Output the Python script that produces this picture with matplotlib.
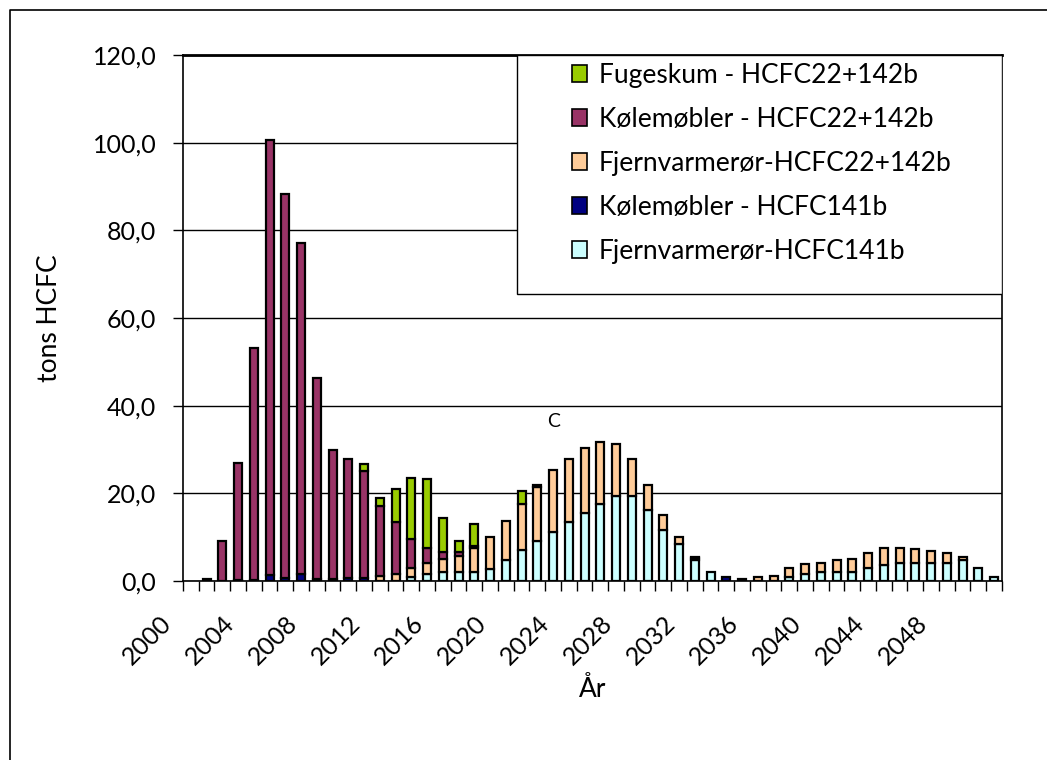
import matplotlib
matplotlib.use("Agg")
import matplotlib.pyplot as plt
import matplotlib.transforms as mtransforms
from matplotlib.lines import Line2D
from matplotlib.patches import Rectangle, Patch
import numpy as np

plt.rcParams['font.family'] = ['Lato', 'DejaVu Sans']

years = list(range(2000, 2052))

# tons HCFC per year, one list per source (stacked bottom to top)
fjernvarme_141b = [0, 0, 0, 0, 0, 0, 0, 0, 0, 0, 0, 0, 0, 0,
                   0.8, 1.7, 2.0, 2.1, 2.0, 2.7, 4.9, 7.0, 9.1, 11.2, 13.4, 15.5,
                   17.6, 19.3, 19.3, 16.3, 11.6, 8.4, 4.9, 2.0, 0, 0, 0, 0,
                   0.8, 1.5, 2.1, 2.1, 2.1, 2.9, 3.7, 4.1, 4.1, 4.1, 4.1, 4.7, 2.9, 0.8]
koele_141b = [0, 0.5, 0.1, 0.2, 0.3, 1.3, 0.7, 1.7, 0.4, 0.4, 0.6, 0.6, 0, 0,
              0, 0, 0, 0, 0, 0, 0, 0, 0, 0, 0, 0,
              0, 0, 0, 0, 0, 0, 0.4, 0, 0.8, 0.4, 0, 0,
              0, 0, 0, 0, 0, 0, 0, 0, 0, 0, 0, 0, 0, 0]
fjernvarme_22 = [0, 0, 0, 0, 0, 0, 0, 0, 0, 0, 0, 0, 1.1, 1.7,
                 2.1, 2.4, 3.0, 3.7, 5.6, 7.3, 8.8, 10.5, 12.3, 14.1, 14.4, 14.8,
                 14.0, 11.9, 8.5, 5.5, 3.5, 1.7, 0.1, 0, 0, 0, 0.8, 1.2,
                 2.1, 2.3, 2.1, 2.6, 2.9, 3.5, 3.9, 3.5, 3.1, 2.7, 2.3, 0.8, 0, 0]
koele_22 = [0, 0, 9.1, 26.7, 52.8, 99.4, 87.7, 75.4, 45.9, 29.5, 27.3, 24.6, 16.1, 11.7,
            6.7, 3.4, 1.7, 0.9, 0.3, 0, 0, 0, 0.4, 0, 0, 0,
            0, 0, 0, 0, 0, 0, 0, 0, 0, 0, 0, 0,
            0, 0, 0, 0, 0, 0, 0, 0, 0, 0, 0, 0, 0, 0]
fugeskum = [0, 0, 0, 0, 0, 0, 0, 0, 0, 0, 0, 1.4, 1.8, 7.7,
            13.9, 15.7, 7.7, 2.4, 5.0, 0, 0, 3.1, 0, 0, 0, 0,
            0, 0, 0, 0, 0, 0, 0, 0, 0, 0, 0, 0,
            0, 0, 0, 0, 0, 0, 0, 0, 0, 0, 0, 0, 0, 0]

series = [
    ("Fjernvarmerør-HCFC141b", fjernvarme_141b, "#CCFFFF"),
    ("Kølemøbler - HCFC141b", koele_141b, "#000080"),
    ("Fjernvarmerør-HCFC22+142b", fjernvarme_22, "#FFCC99"),
    ("Kølemøbler - HCFC22+142b", koele_22, "#993366"),
    ("Fugeskum - HCFC22+142b", fugeskum, "#99CC00"),
]

fig = plt.figure(figsize=(10.47, 7.6), dpi=100)
ax = fig.add_axes([183 / 1047, 1 - 581 / 760, 819 / 1047, 526 / 760])

bottom = np.zeros(len(years))
for name, vals, col in series:
    vals = np.array(vals, dtype=float)
    edges = ['black' if v > 0 else 'none' for v in vals]
    ax.bar(years, vals, width=0.5, bottom=bottom, color=col,
           edgecolor=edges, linewidth=1.6, zorder=3)
    bottom += vals

ax.set_ylim(0, 120)
ax.set_yticks(range(0, 121, 20))
ax.set_yticklabels([f"{v},0" for v in range(0, 121, 20)], fontsize=18)
ax.yaxis.grid(True, color='black', linewidth=1.0, zorder=0)
ax.tick_params(axis='y', length=7.2, width=1, pad=12)

ax.set_xlim(1999.5, 2051.5)
ax.set_xticks(np.arange(1999.5, 2052, 1), minor=True)
ax.set_xticks(years[::4])
ax.set_xticklabels([str(y) for y in years[::4]], fontsize=18, rotation=45,
                   ha='right', rotation_mode='anchor')
ax.tick_params(axis='x', which='minor', length=7, width=1)
ax.tick_params(axis='x', which='major', length=0, pad=14)
# rotated year labels sit a bit left of and below their bar
offset = mtransforms.ScaledTranslation(-22.6 / 72, -8.2 / 72, fig.dpi_scale_trans)
for lab in ax.get_xticklabels():
    lab.set_transform(lab.get_transform() + offset)

for side in ['left', 'bottom', 'right']:
    ax.spines[side].set_linewidth(1.2)
ax.spines['top'].set_linewidth(2)

ax.set_ylabel("tons HCFC", fontsize=19, va='center')
ax.yaxis.set_label_coords(-0.1625, 0.5)
ax.set_xlabel("År", fontsize=19, va='center')
ax.xaxis.set_label_coords(0.5, -0.207)

ax.text(2023, 36.5, "C", fontsize=14, ha='center', va='center')

# legend box
ax.add_patch(Rectangle((0.4078, 0.5456), 0.5922, 0.4544, transform=ax.transAxes,
                       facecolor='white', edgecolor='black', linewidth=1, zorder=4))
handles = [Patch(facecolor=col, edgecolor='black', linewidth=1.2, label=name)
           for name, vals, col in series[::-1]]
leg = ax.legend(handles=handles, loc='center', bbox_to_anchor=(0.707, 0.794),
                frameon=False, fontsize=19, handlelength=0.57, handleheight=0.57,
                handletextpad=0.45, labelspacing=0.72)
leg.set_zorder(5)

# chart area border
fig.add_artist(Line2D([10 / 1047, 10 / 1047, 1], [0, 1 - 10 / 760, 1 - 10 / 760],
                      transform=fig.transFigure, color='black', linewidth=1.2))

fig.savefig("out.png", dpi=100)
